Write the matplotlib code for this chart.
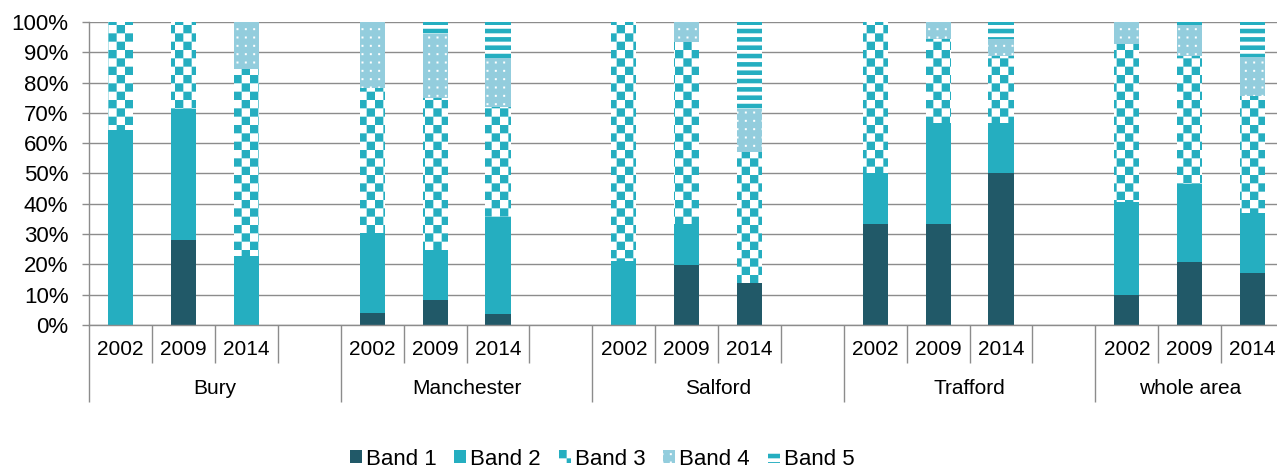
"""
Stacked band shares by area and year (2002 / 2009 / 2014).
"""

import warnings

import matplotlib
matplotlib.use('Agg')
import matplotlib.pyplot as plt
import matplotlib.hatch as mhatch
import matplotlib.ticker as mtick
from matplotlib.path import Path
import numpy as np

warnings.filterwarnings('ignore', category=matplotlib.MatplotlibDeprecationWarning)

groups = ['Bury', 'Manchester', 'Salford', 'Trafford', 'whole area']
years = ['2002', '2009', '2014']
band_names = ['Band 1', 'Band 2', 'Band 3', 'Band 4', 'Band 5']

# % share per bar, order: Bury 02/09/14, Manchester ..., Salford ..., Trafford ..., whole area ...
band1 = [0.0, 28.2, 0.0, 4.1, 8.2, 3.7, 0.0, 19.7, 14.0, 33.3, 33.3, 50.0, 9.9, 20.9, 17.0]
band2 = [64.2, 43.0, 22.8, 26.1, 16.6, 32.1, 21.2, 13.5, 0.0, 16.7, 33.3, 16.7, 30.6, 25.5, 19.9]
band3 = [35.8, 28.8, 61.8, 48.0, 50.1, 36.0, 78.8, 60.2, 43.0, 50.0, 27.8, 22.2, 52.3, 42.4, 38.6]
band4 = [0.0, 0.0, 15.4, 21.8, 21.2, 16.3, 0.0, 6.6, 14.3, 0.0, 5.6, 5.6, 7.2, 10.1, 13.1]
band5 = [0.0, 0.0, 0.0, 0.0, 3.9, 11.9, 0.0, 0.0, 28.7, 0.0, 0.0, 5.5, 0.0, 1.1, 11.4]


# --- custom fill patterns (checkerboard, thick stripes, dots) as hatches ---
class RectHatch(mhatch.HatchPatternBase):
    char = None

    def __init__(self, hatch, density):
        self.rects = self.make_rects() if (hatch and self.char in hatch) else []
        self.num_vertices = 5 * len(self.rects)

    def make_rects(self):
        return []

    def set_vertices_and_codes(self, vertices, codes):
        for k, (x, y, w, h) in enumerate(self.rects):
            vertices[5*k:5*k+5] = [(x, y), (x+w, y), (x+w, y+h), (x, y+h), (x, y)]
            codes[5*k:5*k+5] = [Path.MOVETO, Path.LINETO, Path.LINETO,
                                Path.LINETO, Path.CLOSEPOLY]


class CheckerHatch(RectHatch):
    char = 'c'

    def make_rects(self):
        n = 12
        s = 1.0 / n
        return [(i*s, j*s, s, s) for i in range(n) for j in range(n) if (i + j) % 2 == 0]


class StripeHatch(RectHatch):
    char = 'z'

    def make_rects(self):
        n = 12
        s = 1.0 / n
        return [(0.0, j*s, 1.0, 0.55*s) for j in range(n)]


class DotHatch(RectHatch):
    char = 'd'

    def make_rects(self):
        n = 12
        s = 1.0 / n
        d = 0.02
        return [(i*s + s/2 - d/2, j*s + s/2 - d/2, d, d) for i in range(n) for j in range(n)]


mhatch._hatch_types.extend([CheckerHatch, StripeHatch, DotHatch])

plt.rcParams['font.family'] = ['Liberation Sans', 'DejaVu Sans']
plt.rcParams['hatch.linewidth'] = 0.0

dark = '#215968'
teal = '#25AEC0'
light = '#93CDDD'
grey = '#8C8C8C'

styles = [
    dict(color=dark),
    dict(color=teal),
    dict(facecolor='white', edgecolor=teal, hatch='c'),
    dict(facecolor=light, edgecolor='white', hatch='d'),
    dict(facecolor='white', edgecolor=teal, hatch='z'),
]

# slot positions: 4 slots per group (3 years + a blank), last group has no blank
n_slots = 4 * len(groups) - 1
x = np.array([4*g + k + 0.5 for g in range(len(groups)) for k in range(len(years))])

fig = plt.figure(figsize=(12.77, 4.68), dpi=100)
ax = fig.add_axes([0.0699, 0.3056, 0.9356, 0.6474])

bands = np.array([band1, band2, band3, band4, band5])
bottom = np.zeros(len(x))
for name, vals, st in zip(band_names, bands, styles):
    ax.bar(x, vals, width=0.4, bottom=bottom, label=name, linewidth=0, **st)
    bottom += vals

ax.set_xlim(0, n_slots)
ax.set_ylim(0, 100)
ax.set_axisbelow(True)
ax.yaxis.set_major_locator(mtick.MultipleLocator(10))
ax.yaxis.set_major_formatter(mtick.FuncFormatter(lambda v, p: '{:.0f}%'.format(v)))
ax.grid(axis='y', color=grey, linewidth=1.0)
ax.tick_params(axis='y', length=5, width=1.0, color=grey, labelsize=16, pad=10)

for s in ['top', 'right']:
    ax.spines[s].set_visible(False)
for s in ['left', 'bottom']:
    ax.spines[s].set_color(grey)
    ax.spines[s].set_linewidth(1.0)

# category separators: long ones between groups, short ones between years
ax.set_xticks(np.arange(0, n_slots, 4))
ax.set_xticks(np.arange(1, n_slots), minor=True)
ax.xaxis.set_major_formatter(mtick.NullFormatter())
ax.tick_params(axis='x', which='major', length=55.5, width=1.0, color=grey, direction='out')
ax.tick_params(axis='x', which='minor', length=27.2, width=1.0, color=grey, direction='out')

tr = ax.get_xaxis_transform()
for xi, k in zip(x, range(len(x))):
    ax.text(xi, -0.0825, years[k % 3], transform=tr, ha='center', va='center', fontsize=15)
for g, name in enumerate(groups):
    right = min(4*g + 4, n_slots)
    ax.text((4*g + right) / 2, -0.211, name, transform=tr, ha='center', va='center', fontsize=15)

fig.legend(loc='center', bbox_to_anchor=(0.4715, 0.019), ncol=5, frameon=False,
           fontsize=16, handlelength=0.54, handleheight=0.54, handletextpad=0.18,
           columnspacing=0.8)

fig.savefig('out.png', dpi=100)
